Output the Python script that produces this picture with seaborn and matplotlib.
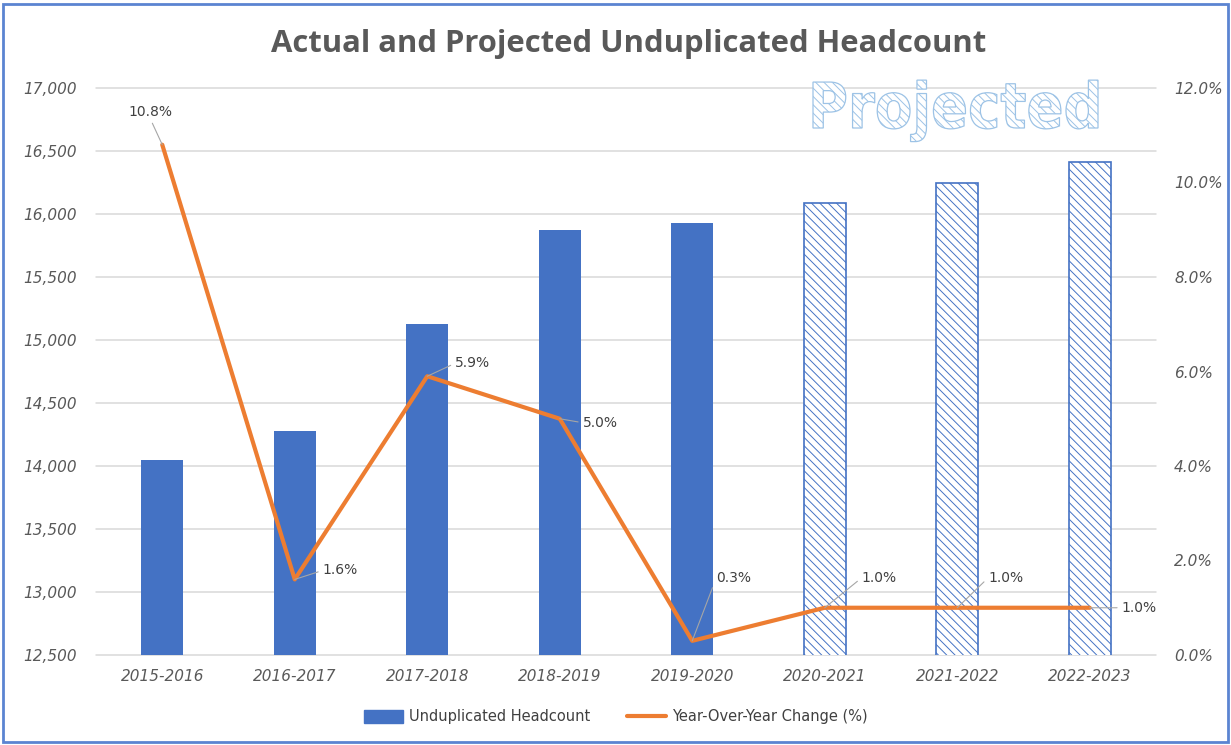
import numpy as np
import pandas as pd
import matplotlib
matplotlib.use("Agg")
import matplotlib.pyplot as plt
import seaborn as sns
from matplotlib.textpath import TextPath
from matplotlib.font_manager import FontProperties
from matplotlib.patches import PathPatch, Rectangle, Patch
from matplotlib.lines import Line2D
from matplotlib.transforms import Affine2D
from matplotlib.ticker import FuncFormatter, MultipleLocator

# ---- data ----
years = ["2015-2016", "2016-2017", "2017-2018", "2018-2019", "2019-2020",
         "2020-2021", "2021-2022", "2022-2023"]
headcount = [14045, 14275, 15125, 15875, 15930, 16085, 16250, 16415]
yoy_pct = [10.8, 1.6, 5.9, 5.0, 0.3, 1.0, 1.0, 1.0]
projected = [False, False, False, False, False, True, True, True]
legend_labels = ["Unduplicated Headcount", "Year-Over-Year Change (%)"]
title_text = "Actual and Projected Unduplicated Headcount"
watermark = "Projected"

# ---- style ----
sns.set_theme(style="white")
plt.rcParams["font.family"] = ["DejaVu Sans"]
plt.rcParams["hatch.linewidth"] = 0.7

BLUE = "#4472C4"
ORANGE = "#ED7D31"
GRAY_TXT = "#595959"
LBL_TXT = "#404040"

fig = plt.figure(figsize=(12.31, 7.45), dpi=100)
ax = fig.add_axes([96 / 1231, 1 - 655 / 745, (1156 - 96) / 1231, (655 - 88) / 745])

df = pd.DataFrame({"year": years, "headcount": headcount})
sns.barplot(data=df, x="year", y="headcount", color=BLUE, width=0.32,
            saturation=1, ax=ax, zorder=2)
for p, proj in zip(ax.patches, projected):
    if proj:
        p.set_facecolor("white")
        p.set_edgecolor(BLUE)
        p.set_hatch("\\\\\\\\")
        p.set_linewidth(1.2)
    else:
        p.set_edgecolor(BLUE)
        p.set_linewidth(0)

ax.set_ylim(12500, 17000)
ax.set_xlim(-0.5, len(years) - 0.5)
ax.yaxis.set_major_locator(MultipleLocator(500))
ax.yaxis.set_major_formatter(FuncFormatter(lambda v, _: f"{int(v):,}"))
ax.grid(axis="y", color="#D9D9D9", lw=1.1, zorder=0)
for gl in ax.get_ygridlines():
    gl.set_clip_on(False)
ax.set_axisbelow(True)
ax.set_xlabel("")
ax.set_ylabel("")
for s in ax.spines.values():
    s.set_visible(False)
ax.tick_params(axis="y", length=0, pad=14, labelsize=11, labelcolor=GRAY_TXT)
ax.tick_params(axis="x", length=0, pad=10, labelsize=11, labelcolor=GRAY_TXT)
for t in ax.get_xticklabels() + ax.get_yticklabels():
    t.set_fontstyle("italic")

# ---- line on secondary axis ----
ax2 = ax.twinx()
xpos = np.arange(len(years))
sns.lineplot(x=xpos, y=yoy_pct, color=ORANGE, lw=3, ax=ax2, zorder=3)
ax2.set_ylim(0, 12)
ax2.set_xlim(-0.5, len(years) - 0.5)
ax2.yaxis.set_major_locator(MultipleLocator(2))
ax2.yaxis.set_major_formatter(FuncFormatter(lambda v, _: f"{v:.1f}%"))
for s in ax2.spines.values():
    s.set_visible(False)
ax2.grid(False)
ax2.tick_params(axis="y", length=0, pad=13, labelsize=11, labelcolor=GRAY_TXT)
for t in ax2.get_yticklabels():
    t.set_fontstyle("italic")

# data labels with leader lines (offsets in pixels)
offsets = [(-12, 33, "center", (0.5, 0.0)),
           (28, 9, "left", (0.0, 0.5)),
           (28, 13, "left", (0.0, 0.5)),
           (23, -4, "left", (0.0, 0.5)),
           (24, 63, "left", (0.0, 0.5)),
           (37, 30, "left", (0.0, 0.5)),
           (31, 30, "left", (0.0, 0.5)),
           (32, 0, "left", (0.0, 0.5))]
for x, v, (dx, dy, ha, rp) in zip(xpos, yoy_pct, offsets):
    ax2.annotate(f"{v:.1f}%", xy=(x, v), xytext=(dx, dy), textcoords="offset pixels",
                 ha=ha, va="center", fontsize=10, color=LBL_TXT, zorder=5,
                 arrowprops=dict(arrowstyle="-", color="#A6A6A6", lw=0.8,
                                 shrinkA=1, shrinkB=0, relpos=rp))

# ---- title ----
fig.text(0.5 + 13 / 1231, 1 - 44 / 745, title_text, ha="center", va="center",
         fontsize=22.3, fontweight="bold", color=GRAY_TXT, family="Open Sans")

# ---- hatched "Projected" watermark ----
tp = TextPath((0, 0), watermark, size=1, prop=FontProperties(family="DejaVu Sans", weight="bold"))
ext = tp.get_extents()
W, H = 1231, 745
tx0, tx1 = 813, 1098      # pixel box (left/right)
ybase, ycap = 128, 82     # baseline and cap top in pixels from top
sx = (tx1 - tx0) / ext.width
sy = (ybase - ycap) / 0.73
trans = (Affine2D().translate(-ext.x0, 0).scale(sx / W, sy / H)
         .translate(tx0 / W, 1 - ybase / H) + fig.transFigure)
fig.add_artist(PathPatch(tp, transform=trans, facecolor="white", edgecolor="#9DC3E6",
                         hatch="\\\\\\\\", lw=0.9, zorder=1))

# ---- legend ----
handles = [Patch(facecolor=BLUE, edgecolor=BLUE),
           Line2D([0], [0], color=ORANGE, lw=3)]
fig.legend(handles, legend_labels, loc="center", bbox_to_anchor=(0.5, 1 - 717 / 745),
           ncol=2, frameon=False, fontsize=10.5, labelcolor=LBL_TXT,
           handlelength=2.7, handleheight=0.9, columnspacing=2.5, handletextpad=0.4)

# ---- outer frame ----
fig.add_artist(Rectangle((3 / W, 3 / H), 1 - 6 / W, 1 - 7 / H, transform=fig.transFigure,
                         fill=False, edgecolor="#5B84D1", lw=2))

fig.savefig("out.png", dpi=100)
